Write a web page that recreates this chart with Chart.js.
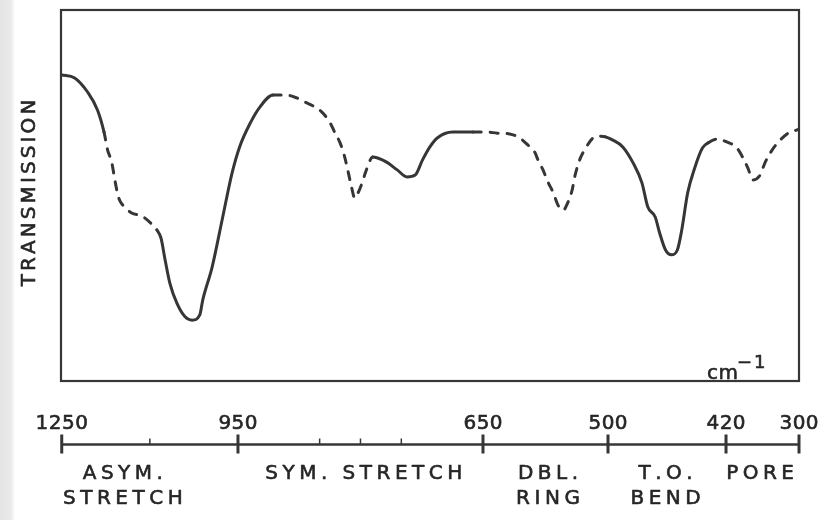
<!DOCTYPE html>
<html>
<head>
<meta charset="utf-8">
<script src="https://cdn.jsdelivr.net/npm/chart.js@4/dist/chart.umd.min.js"></script>
<style>
  html, body { margin: 0; padding: 0; }
  body {
    width: 819px; height: 520px; overflow: hidden;
    background: linear-gradient(to right, #e4e4e4 0px, #ebebeb 11px, #ffffff 15px);
  }
  canvas { display: block; }
</style>
</head>
<body>
<canvas id="spectrum" width="819" height="520"></canvas>
<script>
// Infrared transmission trace (wavenumber in cm^-1, transmission in arbitrary %)
const wavenumber = [
  1250, 1228, 1206, 1189, 1178, 1172, 1165, 1161, 1158, 1153, 1146, 1131, 1114, 1095, 1088,
  1081, 1074, 1066, 1054, 1040, 1028, 1015, 1010, 994, 977, 960, 948, 935, 923, 907,
  892, 878, 868, 856, 846, 837, 831, 825, 820, 815, 811, 807, 803, 798, 794, 788, 785,
  779, 768, 755, 743, 733, 724, 715, 706, 687, 662,
  645, 633, 618, 606, 596, 588, 584, 578, 572, 566, 560, 554, 548, 543, 540, 534, 528, 518, 510,
  503, 497, 490, 483, 477, 473, 468, 465, 461, 457, 453, 450, 446, 441, 436, 432,
  426, 418, 402, 392, 384, 376, 364, 356, 344, 334, 318, 303, 300
];
const transmission = [
  82.5, 81.7, 77.9, 73.0, 67.1, 62.3, 59.0, 55.5, 52.8, 49.3, 47.4, 45.3, 44.5, 42.0, 40.7,
  38.5, 32.6, 26.4, 21.0, 17.3, 16.4, 17.8, 21.8, 30.7, 43.4, 56.1, 63.1, 69.5, 73.9, 77.1,
  77.1, 76.3, 75.2, 73.9, 72.2, 69.5, 66.8, 64.2, 60.9, 56.3, 52.3, 49.3, 50.7, 53.4, 56.1, 59.6, 60.4,
  60.1, 59.0, 56.9, 55.0, 55.5, 59.6, 63.1, 65.5, 67.1, 67.1,
  67.1, 66.8, 66.6, 65.5, 63.6, 61.7, 59.6, 56.9, 53.6, 50.9, 47.4, 46.0, 48.2, 51.5, 55.0, 59.6, 62.3, 65.5, 66.0,
  65.8, 65.0, 63.1, 58.8, 53.4, 46.9, 44.2, 39.9, 35.3, 34.0, 35.3, 40.7, 50.7, 57.7, 62.8, 64.2,
  65.2, 64.4, 62.8, 60.1, 57.4, 54.2, 55.5, 58.8, 62.3, 64.4, 66.8, 67.7, 67.9
];
// Wavenumber bands where the trace is drawn dashed (from, to)
const dashedBands = [[1178, 1087], [907, 785], [662, 506], [432, 300]];

// Wavenumber axis below the frame
const axisTicks = [1250, 950, 650, 500, 420, 300];
const axisTickLabels = ['1250', '950', '650', '500', '420', '300'];
const minorTicks = [1100, 850, 800, 750];

// Vibration assignments and the wavenumber each caption is centred on
const bandNames = [['ASYM.', 'STRETCH'], ['SYM. STRETCH'], ['DBL.', 'RING'], ['T.O.', 'BEND'], ['PORE']];
const bandCentres = [1146, 796, 572, 461, 364];

// ---- presentation ----
const INK = '#262626';
const LINE = '#363636';
const FONT = '"DejaVu Sans", "Liberation Sans", sans-serif';
// fraction of the plot width at which each axis tick sits (the scale is not linear)
const tickFractions = [0.001, 0.2398, 0.5718, 0.7412, 0.9011, 1];

// Piecewise-linear wavenumber scale: linear between the labelled ticks
class PiecewiseScale extends Chart.LinearScale {
  static id = 'piecewise';
  static defaults = Chart.LinearScale.defaults;
  getPixelForValue(value) {
    if (value === null || isNaN(value)) return NaN;
    const v = axisTicks, f = tickFractions;
    let i = 0;
    while (i < v.length - 2 && value < v[i + 1]) i++;
    const t = (v[i] - value) / (v[i] - v[i + 1]);
    return this.getPixelForDecimal(f[i] + t * (f[i + 1] - f[i]));
  }
  getValueForPixel(pixel) {
    const d = this.getDecimalForPixel(pixel);
    const v = axisTicks, f = tickFractions;
    let i = 0;
    while (i < f.length - 2 && d > f[i + 1]) i++;
    const t = (d - f[i]) / (f[i + 1] - f[i]);
    return v[i] + t * (v[i + 1] - v[i]);
  }
}
Chart.register(PiecewiseScale);

function inDashedBand(a, b) {
  const mid = (a + b) / 2;
  return dashedBands.some(([hi, lo]) => mid <= hi && mid >= lo);
}

// letter-spaced text, filled and lightly stroked for a heavier print look
function spacedText(ctx, text, x, y, spacing, align) {
  const chars = [...text];
  const widths = chars.map(ch => ctx.measureText(ch).width);
  const total = widths.reduce((s, w) => s + w, 0) + spacing * (chars.length - 1);
  let cx = align === 'left' ? x : x - total / 2;
  ctx.textAlign = 'left';
  chars.forEach((ch, i) => {
    ctx.fillText(ch, cx, y);
    ctx.strokeText(ch, cx, y);
    cx += widths[i] + spacing;
  });
}

const decorations = {
  id: 'decorations',
  afterDatasetsDraw(chart) {
    const { ctx, chartArea: a } = chart;
    const x = chart.scales.x;
    ctx.save();

    // frame around the plot
    ctx.strokeStyle = LINE;
    ctx.lineWidth = 2.2;
    ctx.strokeRect(a.left, a.top, a.right - a.left, a.bottom - a.top);

    ctx.fillStyle = INK;
    ctx.textBaseline = 'alphabetic';

    // text outline settings
    const textStroke = () => { ctx.strokeStyle = INK; ctx.lineWidth = 0.6; ctx.lineJoin = 'round'; };

    // vertical axis title
    ctx.save();
    ctx.translate(35, 193);
    ctx.rotate(-Math.PI / 2);
    ctx.font = '20px ' + FONT;
    textStroke();
    spacedText(ctx, 'TRANSMISSION', 0, 0, 3.1, 'center');
    ctx.restore();

    // unit
    textStroke();
    ctx.font = '20px ' + FONT;
    spacedText(ctx, 'cm', 707, 379, 0.5, 'left');
    ctx.font = '18px ' + FONT;
    spacedText(ctx, '\u2212', 737, 368, 0, 'left');
    spacedText(ctx, '1', 754, 368, 0, 'left');

    // wavenumber axis below the plot
    const axisY = 444.5;
    const x0 = x.getPixelForValue(axisTicks[0]);
    const x1 = x.getPixelForValue(axisTicks[axisTicks.length - 1]);
    ctx.strokeStyle = LINE;
    ctx.lineCap = 'butt';
    ctx.lineWidth = 2.6;
    ctx.beginPath();
    ctx.moveTo(x0, axisY);
    ctx.lineTo(x1, axisY);
    ctx.stroke();

    ctx.lineWidth = 3;
    axisTicks.forEach(v => {
      const px = x.getPixelForValue(v);
      ctx.beginPath();
      ctx.moveTo(px, axisY - 10);
      ctx.lineTo(px, axisY + 9);
      ctx.stroke();
    });
    ctx.lineWidth = 1.5;
    minorTicks.forEach(v => {
      const px = x.getPixelForValue(v);
      ctx.beginPath();
      ctx.moveTo(px, axisY - 6);
      ctx.lineTo(px, axisY);
      ctx.stroke();
    });

    textStroke();
    ctx.font = '20px ' + FONT;
    axisTicks.forEach((v, i) => {
      spacedText(ctx, axisTickLabels[i], x.getPixelForValue(v), 429, 0.5, 'center');
    });

    // band captions
    bandNames.forEach((lines, i) => {
      const px = x.getPixelForValue(bandCentres[i]);
      lines.forEach((txt, j) => spacedText(ctx, txt, px, 479 + j * 25, 4.5, 'center'));
    });

    ctx.restore();
  }
};

new Chart(document.getElementById('spectrum'), {
  type: 'line',
  data: {
    datasets: [{
      data: wavenumber.map((w, i) => ({ x: w, y: transmission[i] })),
      borderColor: LINE,
      borderWidth: 3,
      borderCapStyle: 'round',
      borderJoinStyle: 'round',
      pointRadius: 0,
      fill: false,
      cubicInterpolationMode: 'monotone',
      segment: {
        borderDash: ctx => inDashedBand(ctx.p0.parsed.x, ctx.p1.parsed.x) ? [8, 9] : undefined
      }
    }]
  },
  options: {
    responsive: false,
    devicePixelRatio: 1,
    animation: false,
    layout: { padding: { left: 61, top: 10, right: 20, bottom: 139 } },
    scales: {
      x: { type: 'piecewise', min: 300, max: 1250, display: false },
      y: { type: 'linear', min: 0, max: 100, display: false }
    },
    plugins: {
      legend: { display: false },
      tooltip: { enabled: false }
    }
  },
  plugins: [decorations]
});
</script>
</body>
</html>
